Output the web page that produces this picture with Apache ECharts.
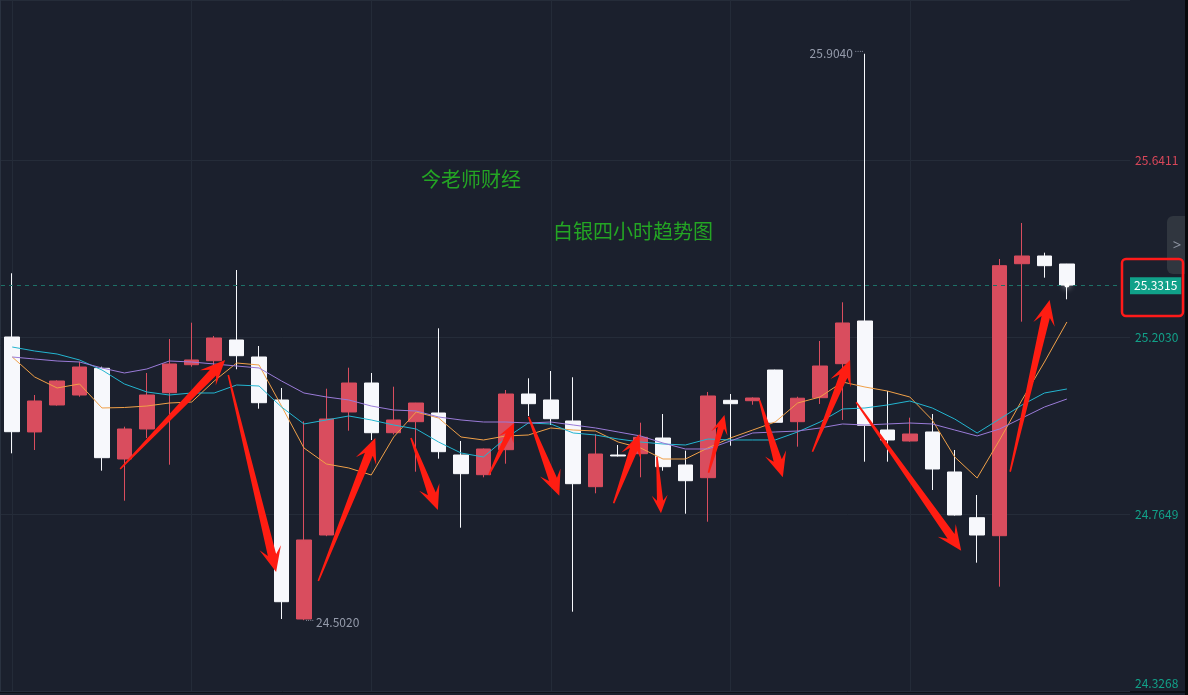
<!DOCTYPE html>
<html>
<head>
<meta charset="utf-8">
<title>白银四小时趋势图</title>
<script src="https://cdn.jsdelivr.net/npm/echarts@6/dist/echarts.min.js"></script>
<style>
  html, body { margin: 0; padding: 0; background: #1b202d; }
  #chart { width: 1188px; height: 695px; }
</style>
</head>
<body>
<div id="chart"></div>
<script>
// 48 根 4 小时 K 线 + 右侧留白 2 格
const categories = [
  '1', '2', '3', '4', '5', '6', '7', '8', '9', '10',
  '11', '12', '13', '14', '15', '16', '17', '18', '19', '20',
  '21', '22', '23', '24', '25', '26', '27', '28', '29', '30',
  '31', '32', '33', '34', '35', '36', '37', '38', '39', '40',
  '41', '42', '43', '44', '45', '46', '47', '48', '49', '50'
]

// [open, close, low, high]
const candles = [
  [25.2030, 24.9686, 24.9151, 25.3607],
  [24.9680, 25.0446, 24.9233, 25.0594],
  [25.0347, 25.0941, 25.0330, 25.0960],
  [25.0594, 25.1287, 25.0552, 25.1419],
  [25.1255, 24.9043, 24.8721, 25.1295],
  [24.9010, 24.9753, 24.7978, 24.9810],
  [24.9753, 25.0594, 24.9530, 25.1139],
  [25.0651, 25.1362, 24.8869, 25.1980],
  [25.1344, 25.1461, 25.1295, 25.2384],
  [25.1443, 25.2005, 25.1295, 25.2055],
  [25.1956, 25.1567, 25.1231, 25.3688],
  [25.1535, 25.0404, 25.0255, 25.1807],
  [25.0471, 24.5478, 24.5050, 25.0768],
  [24.5050, 24.7006, 24.5020, 24.9943],
  [24.7129, 25.0000, 24.7100, 25.0750],
  [25.0174, 25.0891, 24.9711, 25.1270],
  [25.0891, 24.9661, 24.9481, 25.1139],
  [24.9661, 24.9976, 24.9617, 25.0800],
  [24.9934, 25.0396, 24.8696, 25.0400],
  [25.0149, 24.9191, 24.9018, 25.2245],
  [24.9109, 24.8647, 24.7310, 24.9456],
  [24.8622, 24.9258, 24.8557, 24.9270],
  [24.9241, 25.0619, 24.8894, 25.0718],
  [25.0619, 25.0379, 25.0075, 25.1008],
  [25.0471, 25.0008, 24.9852, 25.1188],
  [24.9951, 24.8399, 24.5231, 25.1033],
  [24.8325, 24.9134, 24.8161, 24.9629],
  [24.9109, 24.9085, 24.9072, 24.9357],
  [24.9142, 24.9547, 24.8557, 24.9909],
  [24.9530, 24.8820, 24.8721, 25.0124],
  [24.8862, 24.8473, 24.7656, 24.9216],
  [24.8548, 25.0570, 24.7458, 25.0669],
  [25.0463, 25.0379, 24.9340, 25.0619],
  [25.0453, 25.0520, 25.0354, 25.0537],
  [25.1213, 24.9919, 24.9900, 25.1220],
  [24.9934, 25.0515, 24.9315, 25.0552],
  [25.0528, 25.1312, 25.0372, 25.1931],
  [25.1369, 25.2377, 24.9976, 25.2889],
  [25.2426, 24.9844, 24.8944, 25.9040],
  [24.9728, 24.9481, 24.8944, 25.0693],
  [24.9456, 24.9629, 24.9440, 25.0033],
  [24.9679, 24.8763, 24.8243, 25.0124],
  [24.8689, 24.7624, 24.7610, 24.9233],
  [24.7557, 24.7129, 24.6444, 24.8119],
  [24.7112, 25.3795, 24.5850, 25.3961],
  [25.3844, 25.4035, 25.2409, 25.4852],
  [25.4035, 25.3795, 25.3498, 25.4117],
  [25.3837, 25.3315, 25.2963, 25.3840]
]

const ma5 = [
  25.1535, 25.1040, 25.0768, 25.0867, 25.0273, 25.0285, 25.0322, 25.0396, 25.0421, 25.0941,
  25.1386, 25.1337, 25.0322, 24.9283, 24.8887, 24.8788, 24.8614, 24.9555, 25.0174, 25.0025,
  24.9555, 24.9481, 24.9580, 24.9604, 24.9778, 24.9728, 24.9703, 24.9431, 24.9283, 24.9010,
  24.9010, 24.9283, 24.9530, 24.9728, 24.9926, 25.0396, 25.0545, 25.0916, 25.0792, 25.0693,
  25.0545, 24.9976, 24.9060, 24.8540, 24.9481, 25.0471, 25.1411, 25.2401
]

const ma10 = [
  25.1782, 25.1683, 25.1609, 25.1461, 25.1213, 25.0867, 25.0669, 25.0594, 25.0644, 25.0644,
  25.0842, 25.0817, 25.0297, 24.9877, 24.9976, 25.0075, 24.9976, 24.9852, 24.9753, 24.9431,
  24.9159, 24.9060, 24.9530, 24.9901, 24.9877, 24.9654, 24.9604, 24.9505, 24.9431, 24.9382,
  24.9357, 24.9505, 24.9481, 24.9481, 24.9481, 24.9679, 24.9926, 25.0248, 25.0273, 25.0347,
  25.0446, 25.0273, 25.0000, 24.9654, 25.0000, 25.0347, 25.0644, 25.0743
]

const ma20 = [
  25.1535, 25.1485, 25.1436, 25.1411, 25.1263, 25.1139, 25.1238, 25.1436, 25.1411, 25.1362,
  25.1312, 25.1263, 25.0941, 25.0644, 25.0545, 25.0471, 25.0322, 25.0223, 25.0198, 25.0050,
  24.9976, 24.9926, 24.9926, 24.9901, 24.9926, 24.9852, 24.9778, 24.9679, 24.9580, 24.9406,
  24.9258, 24.9258, 24.9456, 24.9654, 24.9679, 24.9703, 24.9778, 24.9877, 24.9852, 24.9877,
  24.9901, 24.9877, 24.9728, 24.9580, 24.9753, 25.0025, 25.0297, 25.0495
]

// 红色箭头标注 [起点K线序号, 起点价格, 终点K线序号, 终点价格]
const arrows = [
  [4.81, 24.8763, 9.49, 25.1461],
  [9.63, 25.1089, 11.76, 24.6213],
  [13.64, 24.5991, 16.18, 24.9530],
  [17.77, 24.9530, 18.97, 24.7748],
  [21.24, 24.8614, 22.37, 24.9901],
  [23.01, 25.0057, 24.38, 24.8102],
  [26.80, 24.7914, 27.95, 24.9629],
  [28.73, 24.9067, 28.91, 24.7666],
  [31.03, 24.8671, 31.74, 25.0099],
  [33.30, 25.0471, 34.34, 24.8557],
  [35.66, 24.9191, 37.34, 25.1461],
  [37.61, 25.0414, 42.29, 24.6741],
  [44.47, 24.8696, 46.23, 25.2946]
]

// 右侧价格刻度
const priceTicks = [24.3268, 24.7649, 25.2030, 25.6411]
const priceMax = 26.0371

const lastClose = candles[candles.length - 1][1]
const hiIdx = 38
const loIdx = 13

const upColor = '#d94d5e'
const downColor = '#f7f8fc'
const markText = '#959bab'

const chart = echarts.init(document.getElementById('chart'))

chart.setOption({
  backgroundColor: '#1b202d',
  animation: false,
  textStyle: { fontFamily: '"Noto Sans CJK SC", "Noto Sans", sans-serif' },
  grid: [
    { left: 1, right: 65, top: 0, bottom: 4 },
    { left: 0, right: 58, top: 0, bottom: 4 }
  ],
  xAxis: [
    {
      type: 'category',
      gridIndex: 0,
      data: categories,
      axisLine: { show: false },
      axisTick: { show: false },
      axisLabel: { show: false },
      splitLine: {
        show: true,
        alignWithLabel: true,
        interval: function (i) { return i % 8 === 0 && i < candles.length },
        lineStyle: { color: '#242b38' }
      }
    },
    { type: 'value', gridIndex: 0, min: -0.5, max: categories.length - 0.5, show: false },
    { type: 'value', gridIndex: 1, min: 0, max: 1, show: false }
  ],
  yAxis: [
    { type: 'value', gridIndex: 0, min: priceTicks[0], max: priceMax, show: false, splitLine: { show: false } },
    {
      type: 'value',
      gridIndex: 1,
      position: 'right',
      min: priceTicks[0],
      max: priceMax,
      interval: priceTicks[1] - priceTicks[0],
      axisLine: { show: true, lineStyle: { color: '#2a3240' } },
      axisTick: { show: false },
      splitLine: { show: true, lineStyle: { color: '#252c39' } },
      axisLabel: {
        margin: 5,
        fontSize: 12,
        formatter: function (v) {
          if (v > priceMax - 1e-6) return ''
          const s = v.toFixed(4)
          if (Math.abs(v - priceTicks[0]) < 1e-6) return '{low|' + s + '}'
          return v > lastClose ? '{up|' + s + '}' : '{dn|' + s + '}'
        },
        rich: {
          up: { color: '#d9475a', fontSize: 12 },
          dn: { color: '#12a189', fontSize: 12 },
          low: { color: '#12a189', fontSize: 12, padding: [0, 0, 16, 0] }
        }
      }
    }
  ],
  series: [
    {
      name: 'K线',
      type: 'candlestick',
      xAxisIndex: 0,
      yAxisIndex: 0,
      data: candles,
      barWidth: 15,
      itemStyle: {
        color: upColor,
        color0: downColor,
        borderColor: upColor,
        borderColor0: downColor,
        borderWidth: 1
      },
      markLine: {
        silent: true,
        symbol: ['none', 'none'],
        data: [{ yAxis: lastClose }],
        lineStyle: { color: '#1d7167', type: [4, 4], width: 1 },
        label: {
          show: true,
          position: 'end',
          distance: 7,
          formatter: lastClose.toFixed(4),
          color: '#ffffff',
          backgroundColor: '#10a189',
          padding: [3, 4, 2, 4],
          fontSize: 12
        }
      },
      markPoint: {
        silent: true,
        data: [
          {
            coord: [hiIdx, candles[hiIdx][3]],
            symbol: 'circle',
            symbolSize: 1,
            itemStyle: { color: 'rgba(0,0,0,0)' },
            label: {
              show: true,
              position: 'left',
              distance: 1,
              formatter: '{v|' + candles[hiIdx][3].toFixed(4) + '}{d|....}',
              rich: {
                v: { color: markText, fontSize: 12 },
                d: { color: markText, fontSize: 8, fontFamily: 'Noto Sans', padding: [0, 0, 8, 2] }
              }
            }
          },
          {
            coord: [loIdx, candles[loIdx][2]],
            symbol: 'circle',
            symbolSize: 1,
            itemStyle: { color: 'rgba(0,0,0,0)' },
            label: {
              show: true,
              position: 'right',
              distance: 1,
              offset: [0, 2],
              formatter: '{d|....}{v|' + candles[loIdx][2].toFixed(4) + '}',
              rich: {
                v: { color: markText, fontSize: 12 },
                d: { color: markText, fontSize: 8, fontFamily: 'Noto Sans', padding: [0, 2, 6, 0] }
              }
            }
          },
          {
            coord: [candles.length - 1, lastClose],
            symbol: 'circle',
            symbolSize: 5,
            itemStyle: { color: '#ffffff', shadowBlur: 6, shadowColor: '#ffffff' },
            label: { show: false }
          }
        ]
      }
    },
    {
      name: 'MA5',
      type: 'line',
      data: ma5,
      symbol: 'none',
      z: 3,
      lineStyle: { color: '#f0a048', width: 1 }
    },
    {
      name: 'MA10',
      type: 'line',
      data: ma10,
      symbol: 'none',
      z: 3,
      lineStyle: { color: '#23b5d0', width: 1 }
    },
    {
      name: 'MA20',
      type: 'line',
      data: ma20,
      symbol: 'none',
      z: 3,
      lineStyle: { color: '#9a7bd8', width: 1 }
    },
    {
      name: '箭头',
      type: 'custom',
      xAxisIndex: 1,
      yAxisIndex: 0,
      data: arrows,
      z: 10,
      silent: true,
      encode: { x: [0, 2], y: [1, 3] },
      renderItem: function (params, api) {
        const a = api.coord([api.value(0), api.value(1)])
        const b = api.coord([api.value(2), api.value(3)])
        const dx = b[0] - a[0]
        const dy = b[1] - a[1]
        const len = Math.sqrt(dx * dx + dy * dy)
        const ux = dx / len
        const uy = dy / len
        const nx = -uy
        const ny = ux
        const hl = Math.min(25, len * 0.32)
        const hw = hl * 0.44
        const sw = hl * 0.17
        const tw = 0.8
        const p = function (t, w) { return [b[0] - ux * t + nx * w, b[1] - uy * t + ny * w] }
        return {
          type: 'polygon',
          shape: {
            points: [
              [a[0] + nx * tw, a[1] + ny * tw],
              p(hl * 0.7, sw),
              p(hl, hw),
              [b[0], b[1]],
              p(hl, -hw),
              p(hl * 0.7, -sw),
              [a[0] - nx * tw, a[1] - ny * tw]
            ]
          },
          style: { fill: '#ff1d12' }
        }
      }
    }
  ],
  graphic: [
    {
      type: 'text',
      left: 421,
      top: 169,
      style: { text: '今老师财经', fill: '#24a524', font: '20px "Noto Sans CJK SC"' }
    },
    {
      type: 'text',
      left: 553,
      top: 221,
      style: { text: '白银四小时趋势图', fill: '#24a524', font: '20px "Noto Sans CJK SC"' }
    },
    {
      type: 'rect',
      shape: { x: 1167, y: 216, width: 20, height: 58, r: [6, 0, 0, 6] },
      style: { fill: '#30363f' }
    },
    {
      type: 'text',
      x: 1177,
      y: 246,
      style: { text: '>', fill: '#8c93a0', font: '15px "Noto Sans"', align: 'center', verticalAlign: 'middle' }
    },
    {
      type: 'rect',
      z: 100,
      shape: { x: 1122, y: 259, width: 61, height: 57, r: 4 },
      style: { fill: 'none', stroke: '#ff1a1a', lineWidth: 2.5 }
    },
    {
      type: 'rect',
      shape: { x: 0, y: 691, width: 1188, height: 2 },
      style: { fill: '#0d1017' }
    },
    {
      type: 'rect',
      shape: { x: 1185, y: 0, width: 3, height: 695 },
      style: { fill: '#08090c' }
    }
  ]
})
</script>
</body>
</html>
